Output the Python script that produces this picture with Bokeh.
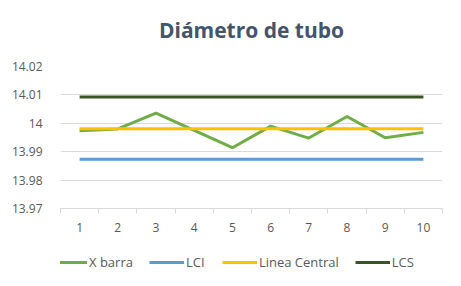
from bokeh.plotting import figure
from bokeh.layouts import column
from bokeh.models import FixedTicker, Legend, LegendItem, Range1d, Title
from bokeh.embed import file_html
from bokeh.resources import INLINE

samples = [1, 2, 3, 4, 5, 6, 7, 8, 9, 10]
x_barra = [13.9974, 13.998, 14.0036, 13.9975, 13.9914, 13.999, 13.9948, 14.0024, 13.9949, 13.9968]
lci = [13.9873] * 10
linea_central = [13.9981] * 10
lcs = [14.0093] * 10
y_ticks = [13.97, 13.98, 13.99, 14.0, 14.01, 14.02]
y_labels = {13.97: "13.97", 13.98: "13.98", 13.99: "13.99", 14.0: "14", 14.01: "14.01", 14.02: "14.02"}
series_names = ["X barra", "LCI", "Linea Central", "LCS"]
series_colors = ["#70AD47", "#5B9BD5", "#FFC000", "#375623"]

FONT = "Open Sans"
LABEL = "#595959"

p = figure(width=461, height=244, output_backend="svg", toolbar_location=None,
           x_range=Range1d(0.5, 10.5), y_range=Range1d(13.97, 14.02),
           min_border_left=60, min_border_right=19, min_border_top=66, min_border_bottom=36,
           title="Diámetro de tubo")
p.title.align = "center"
p.title.text_font = FONT
p.title.text_font_size = "21px"
p.title.text_color = "#44546A"
p.title.text_font_style = "bold"
p.add_layout(Title(text=" ", text_font_size="5px"), "above")
p.outline_line_color = None

for ys, c in zip([x_barra, lci, linea_central, lcs], series_colors):
    p.line(samples, ys, line_color=c, line_width=3)

p.xaxis.ticker = FixedTicker(ticks=samples, minor_ticks=[s - 0.5 for s in samples] + [10.5])
p.xaxis.major_tick_line_color = None
p.xaxis.minor_tick_line_color = "#D9D9D9"
p.xaxis.minor_tick_out = 5
p.xaxis.minor_tick_in = 0
p.xaxis.axis_line_color = "#D9D9D9"
p.xaxis.major_label_text_font = FONT
p.xaxis.major_label_text_font_size = "12px"
p.xaxis.major_label_text_color = LABEL
p.xaxis.major_label_standoff = 8
p.xgrid.grid_line_color = None

p.yaxis.ticker = FixedTicker(ticks=y_ticks)
p.yaxis.major_label_overrides = y_labels
p.yaxis.axis_line_color = None
p.yaxis.major_tick_line_color = None
p.yaxis.minor_tick_line_color = None
p.yaxis.major_label_text_font = FONT
p.yaxis.major_label_text_font_size = "12px"
p.yaxis.major_label_text_color = LABEL
p.yaxis.major_label_standoff = 12
p.ygrid.grid_line_color = "#D9D9D9"

# legend-only strip below the chart (placeholder lines lie outside its visible range)
lg = figure(width=461, height=42, output_backend="svg", toolbar_location=None,
            x_range=Range1d(0, 1), y_range=Range1d(0, 1),
            min_border_left=0, min_border_right=0, min_border_top=0, min_border_bottom=0)
lg.axis.visible = False
lg.grid.visible = False
lg.outline_line_color = None
items = []
for name, c in zip(series_names, series_colors):
    r = lg.line([-5, -4], [-5, -5], line_color=c, line_width=3)
    items.append(LegendItem(label=name, renderers=[r]))
legend = Legend(items=items, orientation="horizontal", location=(-8, 14),
                border_line_color=None, background_fill_alpha=0,
                glyph_width=35, label_standoff=2, spacing=16,
                label_text_font=FONT, label_text_font_size="13px", label_text_color=LABEL,
                padding=4, margin=0)
lg.add_layout(legend, "center")

layout = column(p, lg, spacing=0)
open("out.html", "w").write(file_html(layout, INLINE))
